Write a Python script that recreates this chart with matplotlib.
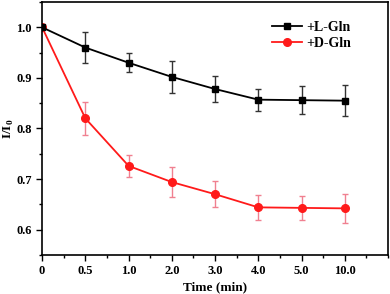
import matplotlib.pyplot as plt
import numpy as np
from matplotlib.ticker import MultipleLocator

times = ['0', '0.5', '1.0', '2.0', '3.0', '4.0', '5.0', '10.0']
l_gln = [1.0, 0.960, 0.930, 0.902, 0.878, 0.857, 0.856, 0.855]
l_err = [0.0, 0.030, 0.019, 0.031, 0.025, 0.022, 0.028, 0.030]
d_gln = [1.0, 0.820, 0.726, 0.694, 0.670, 0.644, 0.643, 0.642]
d_err = [0.0, 0.033, 0.022, 0.029, 0.026, 0.025, 0.023, 0.029]

plt.rcParams['font.family'] = 'Liberation Serif'
plt.rcParams['font.weight'] = 'bold'
plt.rcParams['mathtext.fontset'] = 'custom'
plt.rcParams['mathtext.bf'] = 'Liberation Serif:bold'

fig = plt.figure(figsize=(3.9, 2.94), dpi=100)
ax = fig.add_axes([0.108, 0.133, 0.887, 0.86])

x = np.arange(len(times))

ax.errorbar(x, l_gln, yerr=l_err, color='black', marker='s', markersize=5,
            linewidth=1.3, ecolor='#333333', elinewidth=1, capsize=2.5,
            capthick=1, label='+L-Gln', zorder=3)
ax.errorbar(x, d_gln, yerr=d_err, color='#ff1a1a', marker='o', markersize=5.5,
            linewidth=1.3, ecolor='#f08090', elinewidth=1, capsize=2.5,
            capthick=1, label='+D-Gln', zorder=2)

ax.set_xlim(0, 8)
ax.set_ylim(0.55, 1.05)
ax.set_xticks(x)
ax.set_xticklabels(times)
ax.xaxis.set_minor_locator(MultipleLocator(0.5))
ax.yaxis.set_major_locator(MultipleLocator(0.1))
ax.yaxis.set_minor_locator(MultipleLocator(0.05))
ax.tick_params(which='both', direction='out', labelsize=9, width=1)
ax.tick_params(which='major', length=4)
ax.tick_params(which='minor', length=2.5)
for s in ax.spines.values():
    s.set_linewidth(1.2)

ax.set_xlabel('Time (min)', fontsize=9.5, fontweight='bold', labelpad=3)
ax.set_ylabel(r'I/I$_\mathbf{0}$', fontsize=9.5, fontweight='bold')
ax.yaxis.set_label_coords(-0.076, 0.5)

handles, labels = ax.get_legend_handles_labels()
handles = [h[0] for h in handles]
ax.legend(handles, labels, loc='upper right', bbox_to_anchor=(0.93, 0.975),
          frameon=False, fontsize=10, handlelength=2.2, handletextpad=0.3,
          labelspacing=0.2)

fig.savefig('out.png', dpi=100)
